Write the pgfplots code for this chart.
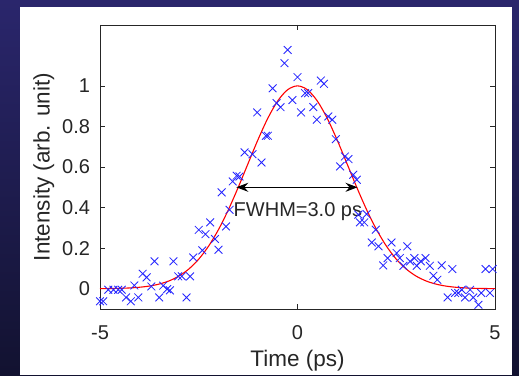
\documentclass[border=0pt]{standalone}
\usepackage{pgfplots}
\pgfplotsset{compat=1.18}
\usepackage{fontspec}
\setmainfont{Liberation Sans}
\usetikzlibrary{arrows.meta}

\definecolor{axisgray}{rgb}{0.15,0.15,0.15}
\definecolor{bgtop}{RGB}{42,38,108}
\definecolor{bgbottom}{RGB}{18,18,48}

% measured autocorrelation samples
\pgfplotstableread{
t y
-5.00 -0.062
-4.92 -0.062
-4.79 -0.005
-4.66 -0.005
-4.54 -0.005
-4.45 -0.005
-4.34 -0.043
-4.22 -0.062
-4.13 0.016
-4.03 -0.043
-3.92 0.074
-3.82 0.056
-3.70 0.011
-3.62 0.135
-3.50 -0.043
-3.40 0.015
-3.30 -0.002
-3.23 -0.008
-3.14 0.135
-3.02 0.061
-2.93 0.061
-2.81 -0.043
-2.72 0.061
-2.64 0.154
-2.50 0.290
-2.41 0.189
-2.33 0.269
-2.21 0.327
-2.09 0.245
-2.00 0.192
-1.92 0.475
-1.81 0.307
-1.72 0.389
-1.64 0.529
-1.54 0.557
-1.47 0.553
-1.34 0.672
-1.14 0.663
-0.91 0.622
-1.02 0.869
-0.80 0.754
-0.75 0.754
-0.63 0.988
-0.53 0.915
-0.43 0.895
-0.33 1.112
-0.25 1.177
-0.13 0.930
0.00 1.043
0.09 0.869
0.19 0.964
0.27 0.964
0.40 0.895
0.49 0.833
0.59 1.026
0.67 1.010
0.78 0.849
0.88 0.833
0.97 0.737
1.08 0.603
1.20 0.652
1.29 0.639
1.41 0.562
1.50 0.537
1.54 0.365
1.58 0.327
1.69 0.327
1.75 0.368
1.88 0.228
1.98 0.291
2.05 0.209
2.17 0.115
2.28 0.151
2.38 0.228
2.51 0.176
2.59 0.151
2.68 0.113
2.78 0.209
2.85 0.135
2.96 0.151
3.02 0.113
3.12 0.135
3.24 0.151
3.35 0.113
3.44 0.064
3.54 0.044
3.65 0.115
3.80 -0.043
3.92 0.097
3.99 -0.021
4.07 -0.021
4.16 -0.005
4.24 -0.043
4.37 -0.005
4.45 -0.043
4.58 -0.079
4.65 -0.021
4.76 0.097
4.87 -0.021
4.94 0.097
}\measured

% Gaussian fit, FWHM = 3.0 ps
\pgfplotstableread{
t y
-5.00 0.00045
-4.75 0.00096
-4.50 0.00195
-4.25 0.00383
-4.00 0.00724
-3.75 0.01314
-3.50 0.02298
-3.25 0.03863
-3.00 0.06250
-2.75 0.09734
-2.50 0.14583
-2.25 0.21022
-2.00 0.29164
-1.75 0.38928
-1.50 0.50000
-1.25 0.61793
-1.00 0.73487
-0.75 0.84090
-0.50 0.92587
-0.25 0.98093
0.00 1.00000
0.25 0.98093
0.50 0.92587
0.75 0.84090
1.00 0.73487
1.25 0.61793
1.50 0.50000
1.75 0.38928
2.00 0.29164
2.25 0.21022
2.50 0.14583
2.75 0.09734
3.00 0.06250
3.25 0.03863
3.50 0.02298
3.75 0.01314
4.00 0.00724
4.25 0.00383
4.50 0.00195
4.75 0.00096
5.00 0.00045
}\fitcurve

\begin{document}
\begin{tikzpicture}
% slide background and white panel
\shade[top color=bgtop, bottom color=bgbottom] (0pt,0pt) rectangle (519pt,375pt);
\fill[white] (20pt,0pt) rectangle (512pt,368pt);

\begin{axis}[
  at={(100pt,66pt)}, anchor=south west,
  width=395pt, height=284pt, scale only axis,
  xmin=-5, xmax=5, ymin=-0.1, ymax=1.3,
  xtick={-5,0,5}, xticklabels={-5,0,5},
  ytick={0,0.2,0.4,0.6,0.8,1}, yticklabels={0,0.2,0.4,0.6,0.8,1},
  tick align=inside, major tick length=5pt,
  axis line style={draw=axisgray, line width=0.7pt},
  tick style={draw=axisgray, line width=0.7pt},
  /pgf/number format/assume math mode=true,
  ticklabel style={font=\fontsize{20}{24}\selectfont, text=axisgray},
  xticklabel style={yshift=-13pt},
  yticklabel style={xshift=-6.5pt},
  xlabel={Time (ps)}, ylabel={Intensity (arb. unit)},
  label style={font=\fontsize{22.5}{27}\selectfont, text=axisgray},
  xlabel style={at={(axis description cs:0.5,-0.183)}, anchor=center},
  ylabel style={at={(axis description cs:-0.142,0.5)}, anchor=center},
  clip=false,
]
\addplot[only marks, mark=x, mark size=5.5pt, draw=blue!85!white, line width=0.85pt]
  table[x=t, y=y] {\measured};
\addplot[red, line width=1.1pt, smooth] table[x=t, y=y] {\fitcurve};
\draw[{Stealth[length=12pt,width=9pt,inset=4pt]}-{Stealth[length=12pt,width=9pt,inset=4pt]}, line width=1.1pt, black]
  (axis cs:-1.55,0.5) -- (axis cs:1.52,0.5);
\node[anchor=base west, inner sep=0pt, text=axisgray, font=\fontsize{20}{24}\selectfont]
  at (axis cs:-1.62,0.356) {FWHM=3.0 ps};
\end{axis}
\end{tikzpicture}
\end{document}
